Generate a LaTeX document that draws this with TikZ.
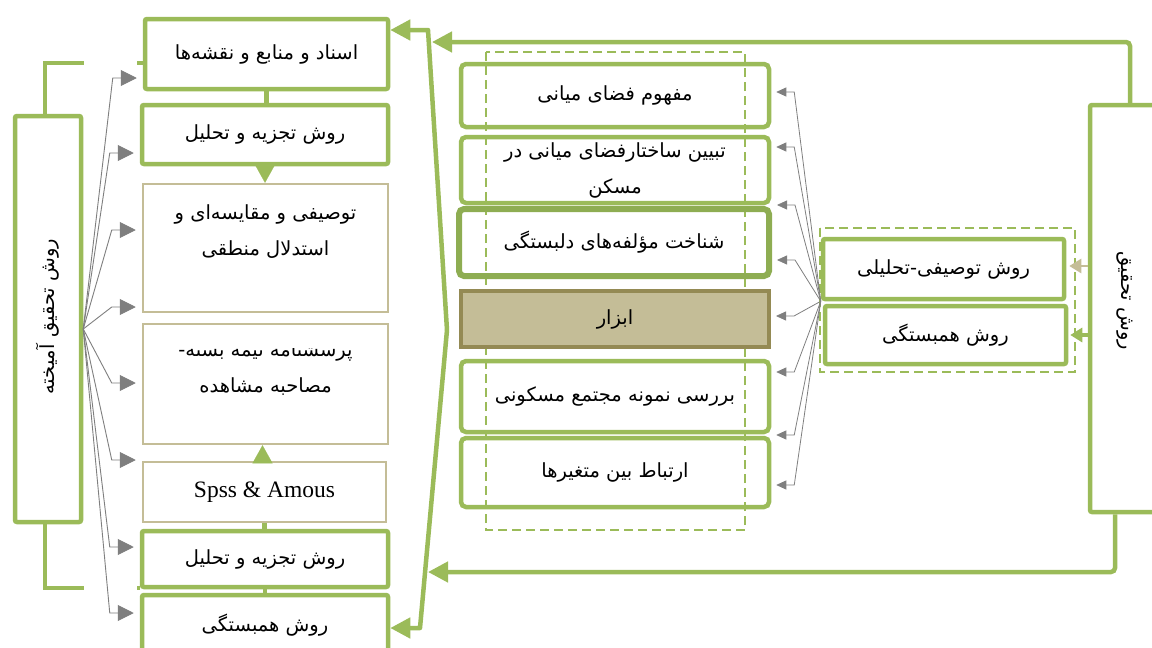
\documentclass[tikz,border=0pt]{standalone}
\usepackage{fontspec}
\setmainfont{Liberation Serif}
\newfontfamily\fafont[Script=Arabic]{DejaVu Sans}
\TeXXeTstate=1
\usetikzlibrary{arrows.meta}
\definecolor{boxgreen}{HTML}{9BBB59}
\definecolor{darkgreen}{HTML}{8EAD52}
\definecolor{boxtan}{HTML}{C4BD97}
\definecolor{boxolive}{HTML}{948A54}
\definecolor{arrowgray}{HTML}{7F7F7F}
\newcommand{\rtl}[1]{\beginR #1\endR}

\begin{document}
\begin{tikzpicture}[
    x=1pt, y=-1pt,
    every node/.style={font=\fafont\fontsize{19.5pt}{36pt}\selectfont, align=center, inner sep=0pt},
    greenbox/.style={draw=boxgreen, line width=4.5pt, rounded corners=2pt},
    roundbox/.style={draw=boxgreen, line width=4.5pt, rounded corners=5pt},
    tanbox/.style={draw=boxtan, line width=2.5pt},
    dashbox/.style={draw=boxgreen, line width=2.5pt, dash pattern=on 9pt off 5pt},
    bigline/.style={draw=boxgreen, line width=4.5pt},
    bigarrow/.style={bigline, -{Triangle[width=20pt,length=20pt]}},
    gaparrow/.style={boxgreen, line width=0.1pt, -{Triangle[width=20pt,length=18pt]}},
    grayarrow/.style={arrowgray, line width=0.9pt, -{Triangle[width=16pt,length=16pt]}},
    smallgray/.style={arrowgray, line width=0.8pt, -{Triangle[width=9pt,length=10pt]}}
]
    \useasboundingbox (0,0) rectangle (1152,648);

    \draw[dashbox] (486,52) rectangle (745,530);
    \draw[dashbox] (820,228) rectangle (1075,372);

    \node[greenbox, minimum width=66pt, minimum height=406pt] (mixed) at (48,319) {};
    \node[rotate=90] (mixedtext) at ([yshift=2pt]mixed.center) {\rtl{روش تحقیق آمیخته}};

    \node[greenbox, minimum width=243pt, minimum height=70pt] (docs) at (266.5,54) {\rtl{اسناد و منابع و نقشه‌ها}};
    \node[greenbox, minimum width=246pt, minimum height=59pt] (anal1) at (265,134.5) {\rtl{روش تجزیه و تحلیل}};
    \node[tanbox, minimum width=245pt, minimum height=128pt] (desc) at (265.5,248) {};
    \node[anchor=north] (desctext) at ([yshift=-22pt]desc.north) {\rtl{توصیفی و مقایسه‌ای و}\\\rtl{استدلال منطقی}};
    \node[tanbox, minimum width=245pt, minimum height=120pt] (quest) at (265.5,384) {};
    \begin{scope}
        \clip (143,348) rectangle (388,444);
        \node[anchor=north] (questtext) at ([yshift=-19pt]quest.north) {\rtl{پرسشنامه نیمه بسته-}\\\rtl{مصاحبه مشاهده}};
    \end{scope}
    \node[tanbox, minimum width=243pt, minimum height=60pt, font=\rmfamily\fontsize{23.5pt}{26pt}\selectfont] (spss) at (264.5,492) {Spss \& Amous};
    \node[greenbox, minimum width=246pt, minimum height=56pt] (anal2) at (265,559) {\rtl{روش تجزیه و تحلیل}};
    \node[greenbox, minimum width=246pt, minimum height=60pt] (corr) at (265,625) {\rtl{روش همبستگی}};

    \node[roundbox, minimum width=308pt, minimum height=63pt] (concept) at (615,95.5) {\rtl{مفهوم فضای میانی}};
    \node[roundbox, minimum width=308pt, minimum height=66pt] (structure) at (615,170) {\rtl{تبیین ساختارفضای میانی در}\\\rtl{مسکن}};
    \node[roundbox, draw=darkgreen, line width=6pt, minimum width=310pt, minimum height=67pt] (attach) at (614,242.5) {\rtl{شناخت مؤلفه‌های دلبستگی}};
    \node[draw=boxolive, fill=boxtan, line width=4pt, minimum width=308pt, minimum height=56pt] (tools) at (615,319) {\rtl{ابزار}};
    \node[roundbox, minimum width=308pt, minimum height=71pt] (sample) at (615,396.5) {\rtl{بررسی نمونه مجتمع مسکونی}};
    \node[roundbox, minimum width=308pt, minimum height=69pt] (relation) at (615,472.5) {\rtl{ارتباط بین متغیرها}};

    \node[greenbox, minimum width=241pt, minimum height=60pt] (descan) at (943.5,269) {\rtl{روش توصیفی-تحلیلی}};
    \node[greenbox, minimum width=241pt, minimum height=58pt] (corrm) at (945.5,335) {\rtl{روش همبستگی}};

    \node[greenbox, minimum width=70pt, minimum height=407pt] (method) at (1125,308.5) {};
    \node[rotate=-90] (methodtext) at ([yshift=8pt]method.center) {\rtl{روش تحقیق}};

    \draw[bigline] ([xshift=-3pt]mixed.north) |- ([yshift=-9pt]docs.west);
    \draw[bigline] ([xshift=-3pt]mixed.south) |- ([yshift=-29pt]anal2.west);
    \fill[white] (84,40) rectangle (137,648);

    \foreach \n/\dy in {docs/-24,anal1/-18.5,desc/18,desc/-59,quest/1,spss/32,anal2/12,corr/12}
        \draw[grayarrow] ([yshift=-10pt]mixed.east)
            to ([xshift=-30pt,yshift=\dy pt]\n.west)
            to ([xshift=-6pt,yshift=\dy pt]\n.west)
        ;
    \foreach \n/\dy in {concept/3.5,structure/23,attach/37.5,attach/-17.5,tools/3,sample/24.5,relation/37.5,relation/-12.5}
        \draw[smallgray] (descan.south west)
            to ([xshift=23pt,yshift=\dy pt]\n.east)
            to ([xshift=5pt,yshift=\dy pt]\n.east)
        ;

    \draw[bigline] (docs.south) -- (docs.south |- anal1.north);
    \draw[gaparrow] (anal1.south) -- (anal1.south |- desc.north);
    \draw[gaparrow] ([xshift=-2pt]spss.north) -- ([xshift=-2pt]spss.north |- quest.south);
    \draw[bigline] (spss.south) -- (spss.south |- anal2.north);
    \draw[bigline] (anal2.south) -- (anal2.south |- corr.north);

    \coordinate (ktop) at (428,30);
    \coordinate (kmid) at (447,330);
    \coordinate (kbot) at (420,628);
    \draw[bigarrow, line join=round] (kmid) -- (ktop) -- (ktop -| docs.east);
    \draw[bigarrow, line join=round] (kmid) -- (kbot) -- (kbot -| corr.east);
    \draw[bigarrow, rounded corners=4pt] ([xshift=5pt]method.north) |- (432,42);
    \draw[bigarrow, rounded corners=4pt] ([xshift=-10pt]method.south) |- (428,572);

    \draw[boxtan, line width=2.5pt, -{Triangle[width=14pt,length=12pt]}] ([yshift=3pt]descan.east -| method.west) -- ([xshift=3pt,yshift=3pt]descan.east);
    \draw[bigline, -{Triangle[width=14pt,length=12pt]}] (corrm.east -| method.west) -- ([xshift=2pt]corrm.east);
\end{tikzpicture}
\end{document}
